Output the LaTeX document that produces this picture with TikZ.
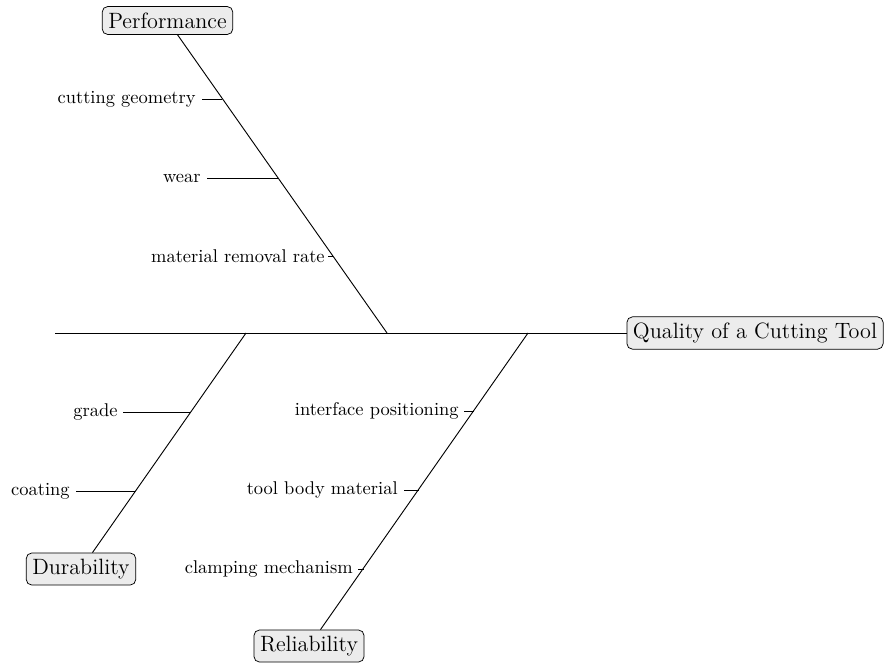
\documentclass[tikz,border=0pt]{standalone}
\usetikzlibrary{calc}
\begin{document}
\begin{tikzpicture}[x=0.5417pt,y=-0.5417pt,
  cat/.style={draw,rounded corners=3pt,fill=gray!15,font=\large,inner sep=3.3pt},
  cause/.style={anchor=east,inner sep=0pt,font=\normalsize},
  bone/.style={draw,line width=0.5pt},
  tick/.style={draw,line width=0.5pt}]
\useasboundingbox (0,0) rectangle (887,662);
% effect and spine
\node[cat] (q) at (755,333) {Quality of a Cutting Tool};
\coordinate (s0) at (55,333);
\draw[bone] (s0) -- (q);
% bone roots on the spine
\coordinate (pr) at (387,333);
\coordinate (dr) at (246,333);
\coordinate (rr) at (528,333);
% categories
\node[cat] (perf) at (167.5,20.5) {Performance};
\node[cat] (dur) at (81,569) {Durability};
\node[cat] (rel) at (309,646) {Reliability};
\draw[bone] (perf) -- (pr);
\draw[bone] (dur) -- (dr);
\draw[bone] (rel) -- (rr);
% bone points
\coordinate (p1) at (222.3,99);
\coordinate (p2) at (278,178);
\coordinate (p3) at (332.5,256);
\coordinate (d1) at (190.7,412);
\coordinate (d2) at (135.4,491);
\coordinate (r1) at (473.5,411);
\coordinate (r2) at (418.5,490);
\coordinate (r3) at (363.5,569);
% causes
\node[cause] (c1) at (196,99) {cutting geometry};
\node[cause] (c2) at (201,178) {wear};
\node[cause] (c3) at (325,256) {material removal rate};
\node[cause] (c4) at (118,412) {grade};
\node[cause] (c5) at (70,491) {coating};
\node[cause] (c6) at (459,411) {interface positioning};
\node[cause] (c7) at (398,490) {tool body material};
\node[cause] (c8) at (353,569) {clamping mechanism};
\draw[tick] ($(c1.east)+(6,0)$) -- (p1);
\draw[tick] ($(c2.east)+(6,0)$) -- (p2);
\draw[tick] ($(c3.east)+(3,0)$) -- (p3);
\draw[tick] ($(c4.east)+(5,0)$) -- (d1);
\draw[tick] ($(c5.east)+(6,0)$) -- (d2);
\draw[tick] ($(c6.east)+(5,0)$) -- (r1);
\draw[tick] ($(c7.east)+(6,0)$) -- (r2);
\draw[tick] ($(c8.east)+(5,0)$) -- (r3);
\end{tikzpicture}
\end{document}
